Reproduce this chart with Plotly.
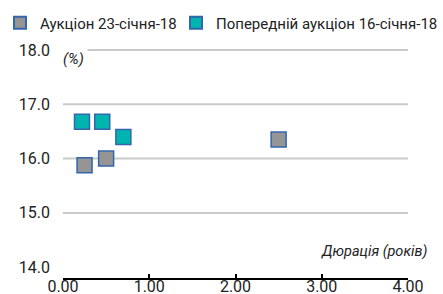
import plotly.graph_objects as go

# Data
dur_current = [0.25, 0.50, 2.50]
yld_current = [15.88, 16.00, 16.35]
dur_prev = [0.22, 0.455, 0.70]
yld_prev = [16.68, 16.68, 16.40]

name_current = "Аукціон 23-січня-18"
name_prev = "Попередній аукціон 16-січня-18"

y_ticks = [14, 15, 16, 17, 18]
y_grid = [15, 16, 17, 18]
x_ticks = [0, 1, 2, 3, 4]

FONT = "Roboto, Liberation Sans, sans-serif"
W, H = 443, 294
BORDER = "#3366ad"
TXT = "#222222"

fig = go.Figure()
fig.add_trace(go.Scatter(
    x=dur_current, y=yld_current, mode="markers", name=name_current,
    marker=dict(symbol="square", size=15, color="#959595",
                line=dict(color=BORDER, width=1.5)),
    legend="legend",
))
fig.add_trace(go.Scatter(
    x=dur_prev, y=yld_prev, mode="markers", name=name_prev,
    marker=dict(symbol="square", size=15, color="#00b5b0",
                line=dict(color=BORDER, width=1.5)),
    legend="legend2",
))

# horizontal gridlines (none at the 14.0 level)
for v in y_grid:
    fig.add_hline(y=v, line=dict(color="#c8cbc9", width=2), layer="below")

legend_common = dict(
    orientation="h", xref="container", yref="container",
    yanchor="middle", xanchor="left", itemsizing="constant",
    font=dict(family=FONT, size=15, color=TXT),
    bgcolor="rgba(0,0,0,0)", borderwidth=0,
)

Y_RANGE = [13.8, 18.02]

fig.update_layout(
    width=W, height=H,
    margin=dict(l=63, r=35, t=49, b=16, autoexpand=False),
    paper_bgcolor="white", plot_bgcolor="white",
    font=dict(family=FONT, size=16, color=TXT),
    showlegend=True,
    legend=dict(x=0.0, y=1 - 23 / H, **legend_common),
    legend2=dict(x=176 / W, y=1 - 23 / H, **legend_common),
    xaxis=dict(
        range=[0, 4], autorange=False, tickvals=x_ticks, tickformat=".2f",
        showgrid=False, zeroline=False,
        showline=True, linecolor="black", linewidth=2,
        ticks="inside", ticklen=4, tickwidth=2, tickcolor="black",
        ticklabelstandoff=-7,
        tickfont=dict(family=FONT, size=16, color=TXT),
    ),
    yaxis=dict(
        range=Y_RANGE, autorange=False, tickvals=y_ticks, tickformat=".1f",
        showgrid=False, zeroline=False, showline=False, ticks="",
        ticklabelstandoff=12,
        tickfont=dict(family=FONT, size=16, color=TXT),
    ),
    annotations=[
        dict(text="(%)", xref="paper", yref="paper", x=0.03, y=0.955,
             xanchor="center", yanchor="middle", showarrow=False,
             font=dict(family=FONT, size=15, color=TXT, style="italic"),
             bgcolor="white", borderpad=3),
        dict(text="Дюрація (років)", xref="paper", yref="paper", x=1.06, y=0.115,
             xanchor="right", yanchor="middle", showarrow=False,
             font=dict(family=FONT, size=14.5, color=TXT, style="italic")),
    ],
)

fig.write_html("out.html",
               config={"displayModeBar": False},
               post_script="document.body.style.margin='0px';")
